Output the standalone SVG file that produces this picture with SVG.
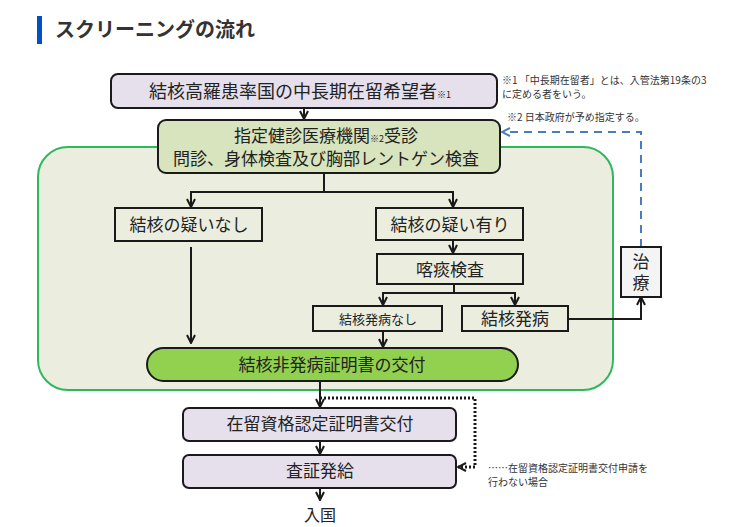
<svg xmlns="http://www.w3.org/2000/svg" width="731" height="527" viewBox="0 0 731 527">
<style>
text{font-family:"Noto Sans CJK JP","Noto Sans",sans-serif;fill:#222}
.b{stroke:#1a1a1a;stroke-width:2}
.c{fill:none;stroke:#1a1a1a;stroke-width:2}
.t18{font-size:18px;text-anchor:middle}
.t17{font-size:17px;text-anchor:middle}
.n{font-size:10px;fill:#333}
</style>
<defs>
<marker id="ah" viewBox="0 0 10 10" refX="9" refY="5" markerWidth="10" markerHeight="10" markerUnits="userSpaceOnUse" orient="auto">
<path d="M1,1 L9,5 L1,9" fill="none" stroke="#1a1a1a" stroke-width="2"/>
</marker>
<marker id="ahb" viewBox="0 0 10 10" refX="9" refY="5" markerWidth="10" markerHeight="10" markerUnits="userSpaceOnUse" orient="auto">
<path d="M1,1 L9,5 L1,9" fill="none" stroke="#4a7ebb" stroke-width="2"/>
</marker>
</defs>
<rect width="731" height="527" fill="#fff"/>
<g id="title">
<rect x="37" y="16" width="5" height="28" fill="#0050c8"/>
<text x="55" y="37" style="font-size:20px;font-weight:bold;fill:#333">スクリーニングの流れ</text>
</g>
<g id="container">
<rect x="38" y="147" width="575" height="243" rx="30" fill="#ebeedf" stroke="#2eb85c" stroke-width="2"/>
</g>
<g id="connectors">
<path class="c" d="M304,108 V119" marker-end="url(#ah)"/>
<path class="c" d="M324,173 V192 H191 V207" marker-end="url(#ah)"/>
<path class="c" d="M324,192 H453 V207" marker-end="url(#ah)"/>
<path class="c" d="M453,240 V253" marker-end="url(#ah)"/>
<path class="c" d="M454,284 V293 H383 V305" marker-end="url(#ah)"/>
<path class="c" d="M454,293 H515 V305" marker-end="url(#ah)"/>
<path class="c" d="M383,331 V347" marker-end="url(#ah)"/>
<path class="c" d="M191,247 V343" marker-end="url(#ah)"/>
<path class="c" d="M568,319 H641 V297" marker-end="url(#ah)"/>
<path d="M641,247 V132 H502" fill="none" stroke="#4a7ebb" stroke-width="2" stroke-dasharray="8,6" marker-end="url(#ahb)"/>
<path class="c" d="M320,381 V407" marker-end="url(#ah)"/>
<path d="M320,398 H475 V467 H458" fill="none" stroke="#1a1a1a" stroke-width="3" stroke-dasharray="2,2" marker-end="url(#ah)"/>
<path class="c" d="M320,441 V454" marker-end="url(#ah)"/>
<path class="c" d="M320,488 V500" marker-end="url(#ah)"/>
</g>
<g id="n1">
<rect class="b" x="111" y="74" width="386" height="34" rx="7" fill="#e6e0ec"/>
<text x="300" y="98" class="t18">結核高羅患率国の中長期在留希望者<tspan style="font-size:9px">※1</tspan></text>
</g>
<g id="n2">
<rect class="b" x="158" y="120" width="342" height="53" rx="8" fill="#d7e4bd"/>
<text x="326" y="142" class="t17">指定健診医療機関<tspan style="font-size:9px">※2</tspan>受診</text>
<text x="326" y="165" class="t17">問診、身体検査及び胸部レントゲン検査</text>
</g>
<g id="n3">
<rect class="b" x="115" y="208" width="147" height="33" fill="#ebeedf"/>
<text x="189" y="231" class="t17">結核の疑いなし</text>
</g>
<g id="n4">
<rect class="b" x="376" y="208" width="147" height="32" fill="#ebeedf"/>
<text x="450" y="231" class="t17">結核の疑い有り</text>
</g>
<g id="n5">
<rect class="b" x="377" y="254" width="146" height="30" fill="#ebeedf"/>
<text x="450" y="276" class="t17">喀痰検査</text>
</g>
<g id="n6">
<rect class="b" x="313" y="306" width="129" height="25" fill="#ebeedf"/>
<text x="378" y="324" style="font-size:13px;text-anchor:middle">結核発病なし</text>
</g>
<g id="n7">
<rect class="b" x="462" y="306" width="106" height="25" fill="#ebeedf"/>
<text x="515" y="325" class="t17">結核発病</text>
</g>
<g id="n8">
<rect class="b" x="621" y="247" width="40" height="50" fill="#f4f4f4"/>
<text x="641" y="253" style="font-size:17px;writing-mode:vertical-rl;letter-spacing:4px">治療</text>
</g>
<g id="n9">
<rect class="b" x="147" y="348" width="371" height="33" rx="16.5" fill="#92d050"/>
<text x="332" y="371" class="t17">結核非発病証明書の交付</text>
</g>
<g id="n10">
<rect class="b" x="183" y="408" width="273" height="33" rx="6" fill="#e6e0ec"/>
<text x="320" y="430" class="t17">在留資格認定証明書交付</text>
</g>
<g id="n11">
<rect class="b" x="183" y="455" width="273" height="33" rx="6" fill="#e6e0ec"/>
<text x="320" y="477" class="t17">査証発給</text>
</g>
<g id="n12">
<text x="320" y="521" style="font-size:16px;text-anchor:middle">入国</text>
</g>
<g id="notes">
<text x="502" y="84" class="n">※1 「中長期在留者」とは、入管法第19条の3</text>
<text x="502" y="98" class="n">に定める者をいう。</text>
<text x="507" y="121" class="n">※2  日本政府が予め指定する。</text>
<text x="488" y="472" class="n">……在留資格認定証明書交付申請を</text>
<text x="488" y="486" class="n">行わない場合</text>
</g>
</svg>
